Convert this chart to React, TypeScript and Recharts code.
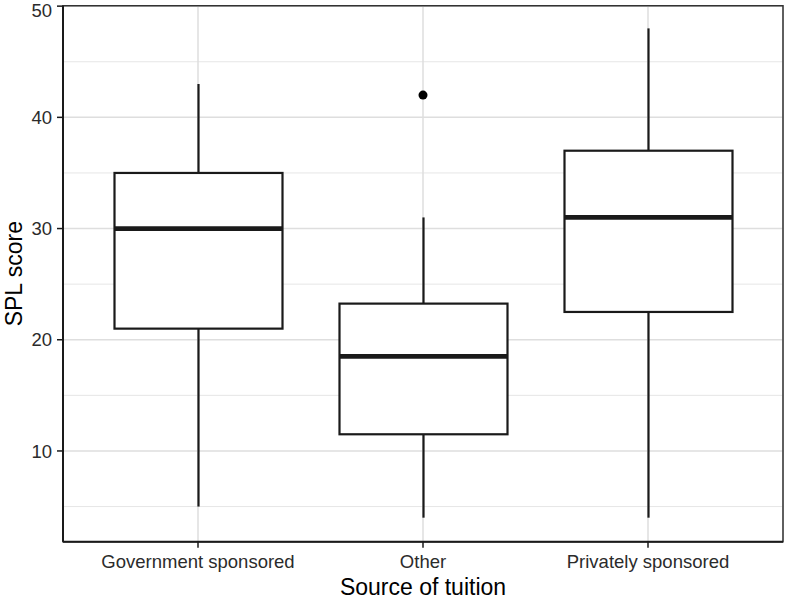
import React from 'react';
import {
  ComposedChart,
  Bar,
  Scatter,
  XAxis,
  YAxis,
  CartesianGrid,
  ReferenceArea,
} from 'recharts';

const categories = ['Government sponsored', 'Other', 'Privately sponsored'];
const whiskerLow = [5, 4, 4];
const q1 = [21, 11.5, 22.5];
const median = [30, 18.5, 31];
const q3 = [35, 23.25, 37];
const whiskerHigh = [43, 31, 48];
const outlierCategory = ['Other'];
const outlierValue = [42];

const yTicks = [10, 20, 30, 40, 50];
const yMinor = [5, 15, 25, 35, 45];
const yDomain: [number, number] = [1.84, 50.04];
const xTicks = [1, 2, 3];

const boxData = categories.map((name, i) => ({
  name,
  pos: i + 1,
  min: whiskerLow[i],
  q1: q1[i],
  median: median[i],
  q3: q3[i],
  max: whiskerHigh[i],
}));

const outlierData = outlierCategory.map((c, i) => ({
  pos: categories.indexOf(c) + 1,
  value: outlierValue[i],
}));

const INK = '#1a1a1a';

// box drawn inside the [min, max] range bar, positions taken from the bar's own scale
const BoxShape = (props: any) => {
  const { x, y, width, height, payload } = props;
  if (!payload || height == null) return null;
  const top = Math.min(y, y + height);
  const bottom = Math.max(y, y + height);
  const span = payload.max - payload.min;
  const py = (v: number) => bottom - ((v - payload.min) / span) * (bottom - top);
  const cx = x + width / 2;
  return (
    <g>
      <line x1={cx} x2={cx} y1={py(payload.max)} y2={py(payload.q3)} stroke={INK} strokeWidth={2.2} />
      <line x1={cx} x2={cx} y1={py(payload.q1)} y2={py(payload.min)} stroke={INK} strokeWidth={2.2} />
      <rect
        x={x}
        y={py(payload.q3)}
        width={width}
        height={py(payload.q1) - py(payload.q3)}
        fill="#ffffff"
        stroke={INK}
        strokeWidth={2.2}
      />
      <line x1={x} x2={x + width} y1={py(payload.median)} y2={py(payload.median)} stroke={INK} strokeWidth={4.8} />
    </g>
  );
};

const tickStyle = { fill: '#2b2b2b', fontSize: 18.5, fontFamily: '"Liberation Sans", Arial, sans-serif' };
const titleStyle = { fill: '#000000', fontSize: 23, fontFamily: '"Liberation Sans", Arial, sans-serif' };

export default function App() {
  return (
    <div style={{ position: 'absolute', left: 0, top: 0, width: 786, height: 599, background: '#fff' }}>
      <ComposedChart
        width={786}
        height={599}
        data={boxData}
        margin={{ top: 5.7, right: 3, left: 0, bottom: 0 }}
      >
        <CartesianGrid stroke="#e6e6e6" strokeWidth={1} vertical={false} horizontalValues={yMinor} />
        <CartesianGrid stroke="#dedede" strokeWidth={1.5} />
        <XAxis
          type="number"
          dataKey="pos"
          domain={[0.4, 3.6]}
          ticks={xTicks}
          tickFormatter={(v: number) => categories[v - 1]}
          tick={tickStyle}
          tickSize={6}
          tickMargin={7}
          height={57.3}
          axisLine={{ stroke: INK, strokeWidth: 2 }}
          tickLine={{ stroke: INK, strokeWidth: 1.5 }}
          label={{ value: 'Source of tuition', position: 'insideBottom', offset: 4, style: titleStyle }}
        />
        <YAxis
          type="number"
          domain={yDomain}
          ticks={yTicks}
          tick={tickStyle}
          tickSize={6}
          tickMargin={5}
          width={63}
          axisLine={{ stroke: INK, strokeWidth: 2 }}
          tickLine={{ stroke: INK, strokeWidth: 1.5 }}
          label={{
            value: 'SPL score',
            angle: -90,
            position: 'insideLeft',
            offset: 13.7,
            style: { ...titleStyle, textAnchor: 'middle' },
          }}
        />
        <Bar
          dataKey={(d: any) => [d.min, d.max]}
          barSize={168}
          shape={<BoxShape />}
          isAnimationActive={false}
        />
        <Scatter data={outlierData} dataKey="value" fill="#000000" isAnimationActive={false} />
        <ReferenceArea
          x1={0.4}
          x2={3.6}
          y1={yDomain[0]}
          y2={yDomain[1]}
          fill="none"
          stroke="#333333"
          strokeWidth={1.5}
        />
      </ComposedChart>
    </div>
  );
}
